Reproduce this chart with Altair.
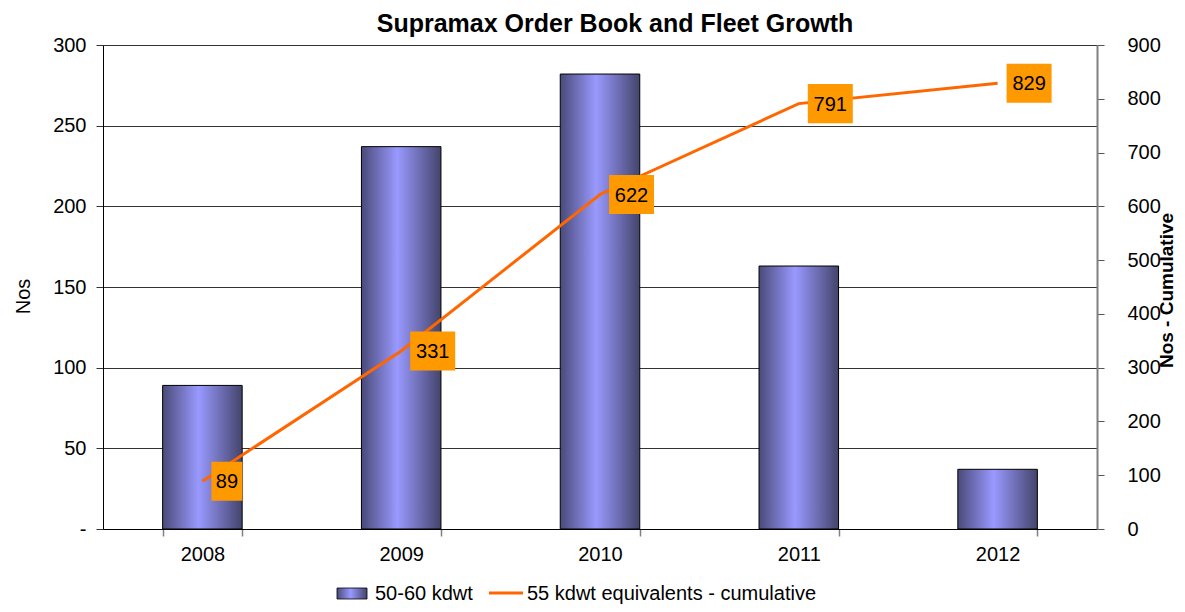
import altair as alt
import pandas as pd

# ---- data ----
years = ["2008", "2009", "2010", "2011", "2012"]
orders = [89, 237, 282, 163, 37]          # 50-60 kdwt (left axis)
cumulative = [89, 331, 622, 791, 829]     # 55 kdwt equivalents - cumulative (right axis)
legend_labels = ["50-60 kdwt", "55 kdwt equivalents - cumulative"]
left_ticks = [0, 50, 100, 150, 200, 250, 300]
right_ticks = [0, 100, 200, 300, 400, 500, 600, 700, 800, 900]

df = pd.DataFrame({"year": years, "orders": orders, "cum": cumulative})

FONT = "Liberation Sans"
ORANGE_LINE = "#ff6600"
ORANGE_BOX = "#ff9900"

def bar_gradient():
    return alt.LinearGradient(
        gradient="linear",
        stops=[
            alt.GradientStop(color="#4a4a7a", offset=0),
            alt.GradientStop(color="#9999ff", offset=0.45),
            alt.GradientStop(color="#44446c", offset=1),
        ],
        x1=0, x2=1, y1=0, y2=0,
    )

x_enc = alt.X(
    "year:N",
    title=None,
    scale=alt.Scale(paddingInner=0.6, paddingOuter=0.3),
    axis=alt.Axis(
        labelAngle=0, labelFontSize=20, labelColor="black", labelPadding=8,
        tickBand="extent", tickSize=7, tickColor="#808080", tickWidth=1.5,
        domainColor="black", domainWidth=1, grid=False,
    ),
)

y_left = alt.Y(
    "orders:Q",
    scale=alt.Scale(domain=[0, 300]),
    axis=alt.Axis(
        title="Nos", titleFontSize=20, titleFontWeight="normal", titleColor="black",
        titleX=-80, titleY=251, titleAngle=270, titleAlign="center", titleBaseline="middle",
        values=left_ticks, labelExpr="datum.value == 0 ? '-' : datum.label",
        labelFontSize=20, labelColor="black", labelPadding=10,
        tickSize=7, tickColor="#333333", domainColor="black",
        grid=True, gridColor="#333333", gridWidth=1,
    ),
)

y_right = alt.Y(
    "cum:Q",
    scale=alt.Scale(domain=[0, 900]),
    axis=alt.Axis(
        orient="right", title="Nos - Cumulative", titleFontSize=19,
        titleFontWeight="bold", titleColor="black",
        titleX=69, titleY=245, titleAngle=270, titleAlign="center", titleBaseline="middle",
        values=right_ticks, labelFontSize=20, labelColor="black", labelPadding=23,
        labelAlign="left",
        tickSize=7, tickColor="#555555", domainColor="#808080", domainWidth=2,
        grid=False,
    ),
)

bars = alt.Chart(df).mark_bar(
    color=bar_gradient(), stroke="black", strokeWidth=1
).encode(x=x_enc, y=y_left)

line = alt.Chart(df).mark_line(
    color=ORANGE_LINE, strokeWidth=3
).encode(x=alt.X("year:N"), y=y_right)

box3 = alt.Chart(df).transform_filter("datum.cum >= 100").mark_point(
    shape="M-1,-0.867L1,-0.867L1,0.867L-1,0.867Z", size=2025, filled=True,
    color=ORANGE_BOX, opacity=1, strokeWidth=0, xOffset=31.5,
).encode(x=alt.X("year:N"), y=y_right)

box2 = alt.Chart(df).transform_filter("datum.cum < 100").mark_point(
    shape="M-0.795,-1L0.795,-1L0.795,1L-0.795,1Z", size=1521, filled=True,
    color=ORANGE_BOX, opacity=1, strokeWidth=0, xOffset=24.5,
).encode(x=alt.X("year:N"), y=y_right)

text3 = alt.Chart(df).transform_filter("datum.cum >= 100").mark_text(
    font=FONT, fontSize=20, color="black", dx=31.5, dy=1, align="center", baseline="middle",
).encode(x=alt.X("year:N"), y=y_right, text="cum:Q")

text2 = alt.Chart(df).transform_filter("datum.cum < 100").mark_text(
    font=FONT, fontSize=20, color="black", dx=24.5, dy=1, align="center", baseline="middle",
).encode(x=alt.X("year:N"), y=y_right, text="cum:Q")

right_layer = alt.layer(line, box2, box3, text2, text3)

# ---- manual legend below the plot ----
leg1 = pd.DataFrame({"label": [legend_labels[0]]})
leg2 = pd.DataFrame({"label": [legend_labels[1]]})

LEG_Y = 549

leg_swatch = alt.Chart(leg1).mark_rect(
    color=bar_gradient(), stroke="black", strokeWidth=0.8
).encode(x=alt.value(234), x2=alt.value(264), y=alt.value(LEG_Y - 6), y2=alt.value(LEG_Y + 5))

leg_text1 = alt.Chart(leg1).mark_text(
    font=FONT, fontSize=20, color="black", align="left", baseline="middle"
).encode(x=alt.value(272), y=alt.value(LEG_Y), text="label:N")

leg_line = alt.Chart(leg2).mark_rule(
    color=ORANGE_LINE, strokeWidth=3
).encode(x=alt.value(386), x2=alt.value(420), y=alt.value(LEG_Y - 1))

leg_text2 = alt.Chart(leg2).mark_text(
    font=FONT, fontSize=20, color="black", align="left", baseline="middle"
).encode(x=alt.value(424), y=alt.value(LEG_Y), text="label:N")

chart = alt.layer(
    bars, right_layer, leg_swatch, leg_text1, leg_line, leg_text2
).resolve_scale(y="independent").properties(
    width=994,
    height=484,
    autosize=alt.AutoSizeParams(type="none"),
    padding={"left": 95, "top": 37, "right": 80, "bottom": 75},
    title=alt.TitleParams(
        "Supramax Order Book and Fleet Growth",
        font=FONT, fontSize=25, fontWeight="bold", color="black",
        anchor="middle", frame="group", dx=15, offset=-2,
    ),
).configure_view(stroke=None).configure_axis(
    labelFont=FONT, titleFont=FONT
).configure(background="white")

chart.save("out.html", embed_options={"renderer": "svg", "actions": False})
